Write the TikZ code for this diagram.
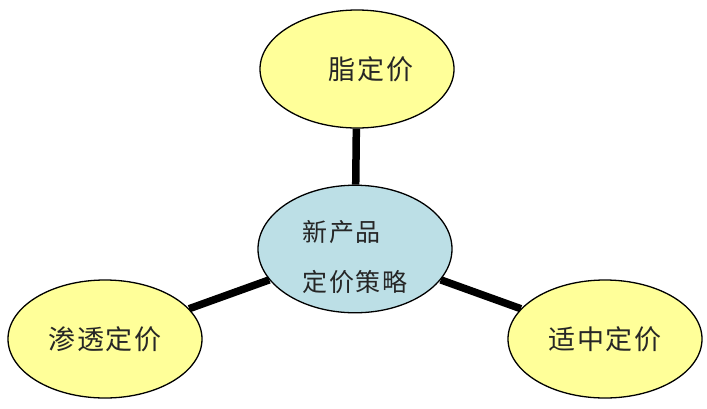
\documentclass[tikz,border=0pt]{standalone}
\usepackage{fontspec}
\usepackage{xcolor}
\usetikzlibrary{shapes.geometric}
\newfontfamily\cjk[LetterSpace=7]{Noto Sans CJK SC}
\definecolor{paleyellow}{HTML}{FFFF99}
\definecolor{paleblue}{HTML}{BCDFE6}
\definecolor{inkgray}{HTML}{262626}

\begin{document}
\begin{tikzpicture}[x=1pt, y=-1pt,
    leaf/.style={ellipse, draw=black, line width=1.3pt, fill=paleyellow,
        minimum width=194pt, minimum height=118pt, inner sep=0pt,
        text=inkgray, font=\cjk\fontsize{27}{30}\selectfont},
    hub/.style={leaf, fill=paleblue, align=left,
        font=\cjk\fontsize{25}{50}\selectfont},
    link/.style={line width=7.5pt, black}]
    \useasboundingbox (0,0) rectangle (707,408);

    % Outer nodes
    \node[leaf] (top) at (357,69) {\hspace*{28pt}脂定价};
    \node[leaf] (left) at (105,339) {渗透定价};
    \node[leaf] (right) at (605,339) {适中定价};

    % Centre node
    \node[hub, minimum width=194pt, minimum height=120pt] (hub) at (355,249)
        {\rule{0pt}{38pt}新产品\\定价策略};

    % Connectors
    \draw[link] (hub) -- (top);
    \draw[link] (hub) -- (left);
    \draw[link] (hub) -- (right);
\end{tikzpicture}
\end{document}
